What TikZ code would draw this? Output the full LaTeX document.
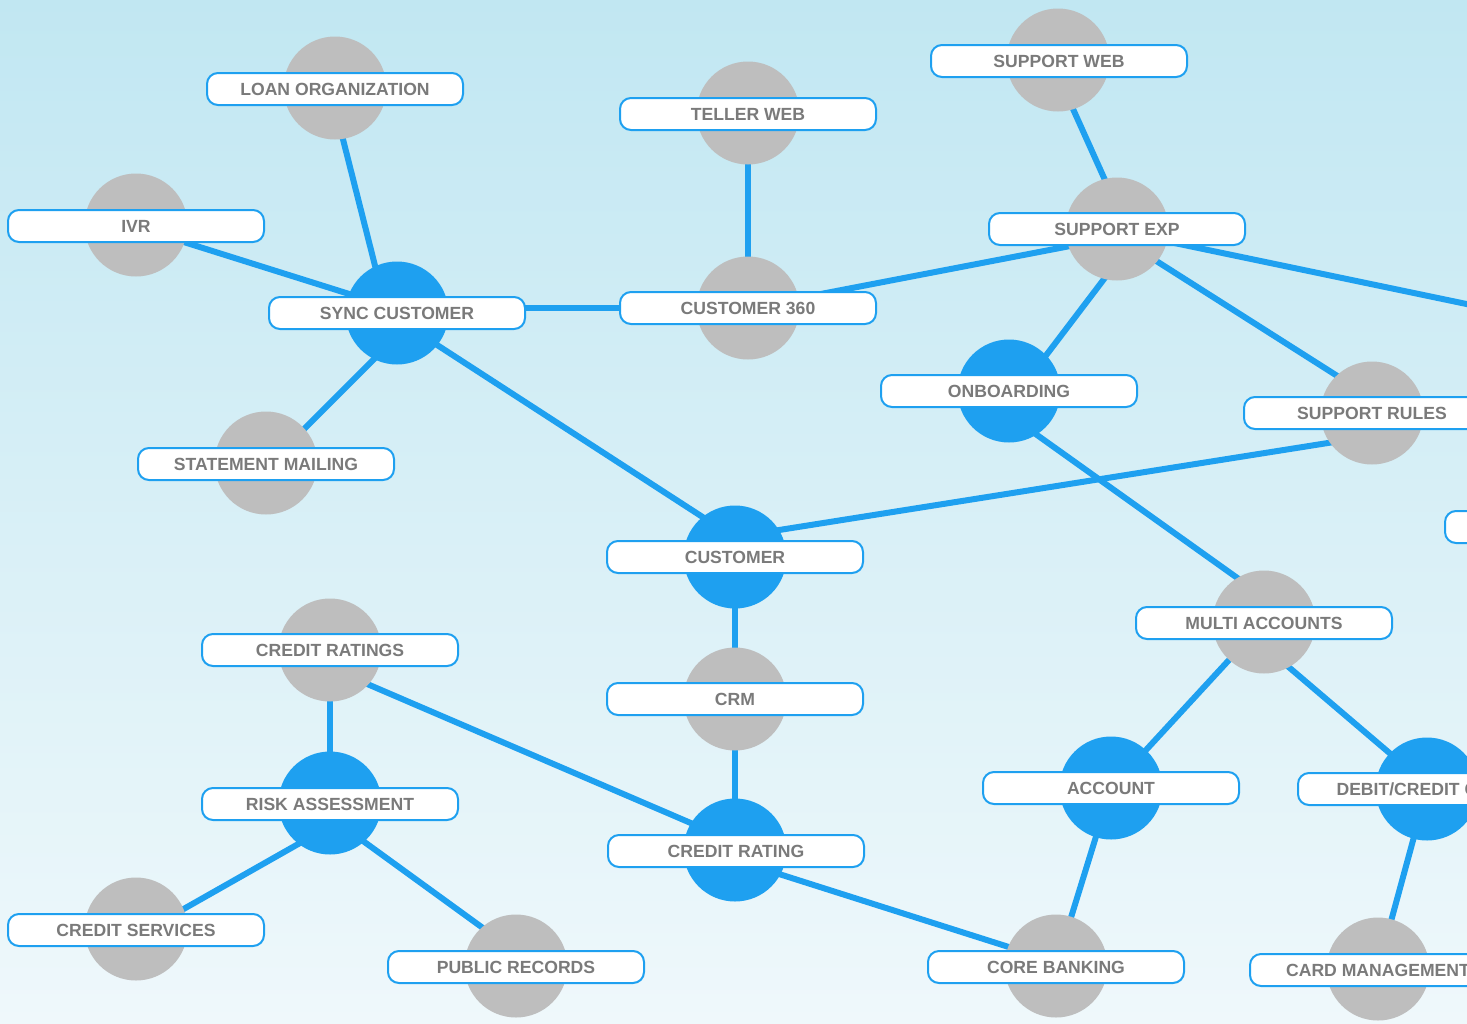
\documentclass[tikz,border=0pt]{standalone}
\usepackage{fontspec}
\setmainfont{Liberation Sans}
\usetikzlibrary{calc}
\definecolor{bluec}{RGB}{30,160,240}
\definecolor{grayc}{RGB}{190,190,190}
\definecolor{txt}{RGB}{122,122,122}
\definecolor{bgtop}{RGB}{193,231,242}
\definecolor{bgbot}{RGB}{239,248,251}
\pgfdeclarelayer{bg}
\pgfsetlayers{bg,main}
\begin{document}
\begin{tikzpicture}[x=1pt,y=-1pt,
 dot/.style={circle, minimum size=103pt, inner sep=0pt, draw=none},
 gdot/.style={dot, fill=grayc},
 bdot/.style={dot, fill=bluec},
 lbl/.style={draw=bluec, line width=2pt, fill=white, rounded corners=11pt,
   minimum width=256pt, minimum height=32pt, inner sep=0pt,
   font=\fontsize{17.6}{18}\selectfont\bfseries, text=txt},
 link/.style={draw=bluec, line width=6pt}]
\useasboundingbox (0,0) rectangle (1467,1023);
% circles
\node[gdot] (loan) at (335,88) {};
\node[gdot] (teller) at (748,113) {};
\node[gdot] (supweb) at (1058,60) {};
\node[gdot] (ivr) at (136,225) {};
\node[bdot] (sync) at (397,313) {};
\node[gdot] (c360) at (748,308) {};
\node[gdot] (supexp) at (1117,229) {};
\node[bdot] (onb) at (1009,391) {};
\node[gdot] (suprules) at (1372,413) {};
\node[gdot] (stmt) at (266,463) {};
\node[bdot] (cust) at (735,557) {};
\node[gdot] (multi) at (1264,622) {};
\node[gdot] (cratings) at (330,650) {};
\node[gdot] (crm) at (735,699) {};
\node[bdot] (risk) at (330,803) {};
\node[bdot] (acct) at (1111,788) {};
\node[bdot] (debit) at (1427,789) {};
\node[bdot] (crating) at (735,850) {};
\node[gdot] (csvc) at (136,929) {};
\node[gdot] (pub) at (516,966) {};
\node[gdot] (core) at (1056,966) {};
\node[gdot] (card) at (1378,969) {};
\coordinate (offright) at (1500,311);
% labels
\node[lbl] (loanL) at (335,89) {LOAN ORGANIZATION};
\node[lbl] (tellerL) at (748,114) {TELLER WEB};
\node[lbl] (supwebL) at (1059,61) {SUPPORT WEB};
\node[lbl] (ivrL) at (136,226) {IVR};
\node[lbl] (syncL) at (397,313) {SYNC CUSTOMER};
\node[lbl] (c360L) at (748,308) {CUSTOMER 360};
\node[lbl] (supexpL) at (1117,229) {SUPPORT EXP};
\node[lbl] (onbL) at (1009,391) {ONBOARDING};
\node[lbl] (suprulesL) at (1372,413) {SUPPORT RULES};
\node[lbl] (extraL) at (1573,527) {};
\node[lbl] (stmtL) at (266,464) {STATEMENT MAILING};
\node[lbl] (custL) at (735,557) {CUSTOMER};
\node[lbl] (multiL) at (1264,623) {MULTI ACCOUNTS};
\node[lbl] (cratingsL) at (330,650) {CREDIT RATINGS};
\node[lbl] (crmL) at (735,699) {CRM};
\node[lbl] (riskL) at (330,804) {RISK ASSESSMENT};
\node[lbl] (acctL) at (1111,788) {ACCOUNT};
\node[lbl] (debitL) at (1426,789) {DEBIT/CREDIT CARD};
\node[lbl] (cratingL) at (736,851) {CREDIT RATING};
\node[lbl] (csvcL) at (136,930) {CREDIT SERVICES};
\node[lbl] (pubL) at (516,967) {PUBLIC RECORDS};
\node[lbl] (coreL) at (1056,967) {CORE BANKING};
\node[lbl] (cardL) at (1378,970) {CARD MANAGEMENT};
% background and connectors
\begin{pgfonlayer}{bg}
\shade[top color=bgtop, bottom color=bgbot] (0,0) rectangle (1467,1023);
\draw[link] ($(loan.center)+(-5,0)$) -- ($(sync.center)+(-10,0)$);
\draw[link] ($(ivr.center)+(0,2)$) -- ($(sync.center)+(0,-4)$);
\draw[link] (sync.center |- c360.center) -- (c360.center);
\draw[link] ($(sync.center)+(23,0)$) -- ($(stmt.center)+(4,0)$);
\draw[link] ($(sync.center)+(0,6)$) -- ($(cust.center)+(0,-19)$);
\draw[link] (teller.center) -- (c360.center);
\draw[link] (c360.center) -- ($(supexp.center)+(0,8)$);
\draw[link] ($(supweb.center)+(-7,0)$) -- ($(supexp.center)+(10,0)$);
\draw[link] ($(supexp.center)+(25,0)$) -- ($(onb.center)+(10,0)$);
\draw[link] ($(supexp.center)+(0,7)$) -- ($(suprules.center)+(0,-15)$);
\draw[link] ($(supexp.center)+(0,2)$) -- (offright);
\draw[link] ($(suprules.center)+(0,23)$) -- ($(cust.center)+(0,-20)$);
\draw[link] ($(onb.center)+(0,24)$) -- ($(multi.center)+(0,-25)$);
\draw[link] (cust.center) -- (crm.center);
\draw[link] (crm.center) -- (crating.center);
\draw[link] (cratings.center) -- (risk.center);
\draw[link] ($(cratings.center)+(0,18)$) -- ($(crating.center)+(0,-8)$);
\draw[link] ($(risk.center)+(0,23)$) -- ($(csvc.center)+(0,7)$);
\draw[link] ($(risk.center)+(0,14)$) -- ($(pub.center)+(0,-14)$);
\draw[link] ($(crating.center)+(0,10)$) -- ($(core.center)+(0,-4)$);
\draw[link] (multi.center) -- (acct.center);
\draw[link] ($(multi.center)+(0,24)$) -- ($(debit.center)+(0,-4)$);
\draw[link] (acct.center) -- (core.center);
\draw[link] (debit.center) -- (card.center);
\end{pgfonlayer}
\end{tikzpicture}
\end{document}
